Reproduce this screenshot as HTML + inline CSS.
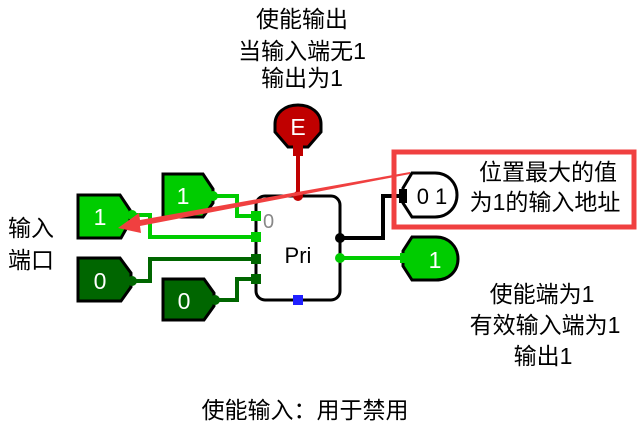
<!DOCTYPE html><html><head><style>body{margin:0;background:#fff}svg{display:block}text{font-family:"Liberation Sans","Noto Sans CJK SC",sans-serif}</style></head><body>
<svg width="638" height="428" viewBox="0 0 638 428" xmlns="http://www.w3.org/2000/svg">
<g font-size="23" fill="#000">
<text x="302" y="27" text-anchor="middle">使能输出</text>
<text x="302" y="59" text-anchor="middle">当输入端无1</text>
<text x="302" y="86" text-anchor="middle">输出为1</text>
<text x="8" y="236">输入</text>
<text x="8" y="268">端口</text>
<text x="548" y="180" text-anchor="middle">位置最大的值</text>
<text x="545" y="210" text-anchor="middle">为1的输入地址</text>
<text x="542" y="302" text-anchor="middle">使能端为1</text>
<text x="545" y="333" text-anchor="middle">有效输入端为1</text>
<text x="543" y="364" text-anchor="middle">输出1</text>
<text x="305" y="418" text-anchor="middle">使能输入：用于禁用</text>
</g>
<g fill="none" stroke-width="4">
<polyline points="213,196 237,196 237,216 255,216" stroke="#00cc00"/>
<polyline points="132,215 150,215 150,237 255,237" stroke="#00cc00"/>
<polyline points="132,281 150,281 150,259 255,259" stroke="#006600"/>
<polyline points="215,300 237,300 237,279 255,279" stroke="#006600"/>
<polyline points="340,238 383,238 383,196 402,196" stroke="#000"/>
<line x1="340" y1="258" x2="405" y2="258" stroke="#00cc00"/>
<line x1="298" y1="148" x2="298" y2="196" stroke="#c00000"/>
</g>
<rect x="256" y="196" width="84" height="104" rx="9" fill="#fff" stroke="#000" stroke-width="3"/>
<text x="298" y="263" font-size="22" text-anchor="middle">Pri</text>
<text x="263" y="228" font-size="20" fill="#888">0</text>
<g fill="#00cc00"><rect x="251" y="211" width="10" height="10"/><rect x="251" y="232" width="10" height="10"/></g>
<g fill="#006600"><rect x="251" y="254" width="10" height="10"/><rect x="251" y="274" width="10" height="10"/></g>
<rect x="293" y="295" width="10" height="10" fill="#2020ff"/>
<circle cx="298" cy="196" r="5" fill="#c00000"/>
<circle cx="340" cy="238" r="5" fill="#000"/>
<circle cx="340" cy="258" r="5" fill="#00cc00"/>
<path d="M298,105 C311,105 321,113 321,124 L321,132 L308,147 L288,147 L275,132 L275,124 C275,113 285,105 298,105Z" fill="#c00000" stroke="#000" stroke-width="3"/>
<rect x="293" y="144" width="10" height="12" fill="#c00000"/>
<text x="298" y="135" font-size="23" fill="#fff" text-anchor="middle">E</text>
<g stroke="#000" stroke-width="3">
<path d="M78,195 L120,195 L130,210 L130,222 L121,238 L78,238Z" fill="#00cc00"/>
<path d="M163,174 L203,174 L213,189 L213,203 L203,217 L163,217Z" fill="#00cc00"/>
<path d="M78,258 L120,258 L131,273 L131,287 L121,301 L78,301Z" fill="#006600"/>
<path d="M163,279 L204,279 L214,293 L214,306 L204,320 L163,320Z" fill="#006600"/>
</g>
<g fill="#00cc00"><circle cx="132" cy="215" r="5"/><circle cx="213" cy="196" r="5"/></g>
<g fill="#006600"><circle cx="132" cy="281" r="5"/><circle cx="215" cy="300" r="5"/></g>
<g font-size="23" fill="#fff" text-anchor="middle">
<text x="100" y="225">1</text><text x="183" y="204">1</text>
<text x="100" y="289">0</text><text x="184" y="309">0</text>
</g>
<path d="M412,173 L435,173 C448,173 457,183 457,195 C457,207 448,217 435,217 L412,217 L403,203 L403,188Z" fill="#fff" stroke="#000" stroke-width="3"/>
<rect x="399" y="189" width="8" height="14" fill="#000"/>
<text x="432" y="204" font-size="22" text-anchor="middle">0 1</text>
<path d="M412,237 L436,237 C449,237 458,247 458,259 C458,271 449,280 436,280 L412,280 L403,266 L403,251Z" fill="#00cc00" stroke="#000" stroke-width="3"/>
<rect x="400" y="253" width="8" height="10" fill="#00cc00"/>
<text x="435" y="268" font-size="23" fill="#fff" text-anchor="middle">1</text>
<rect x="394" y="152" width="240" height="75" fill="none" stroke="#f04040" stroke-width="5"/>
<polygon points="410,172 410,174 140,226 141,233 118,228 139,213 140,220" fill="#f04040"/>
</svg>
</body></html>
